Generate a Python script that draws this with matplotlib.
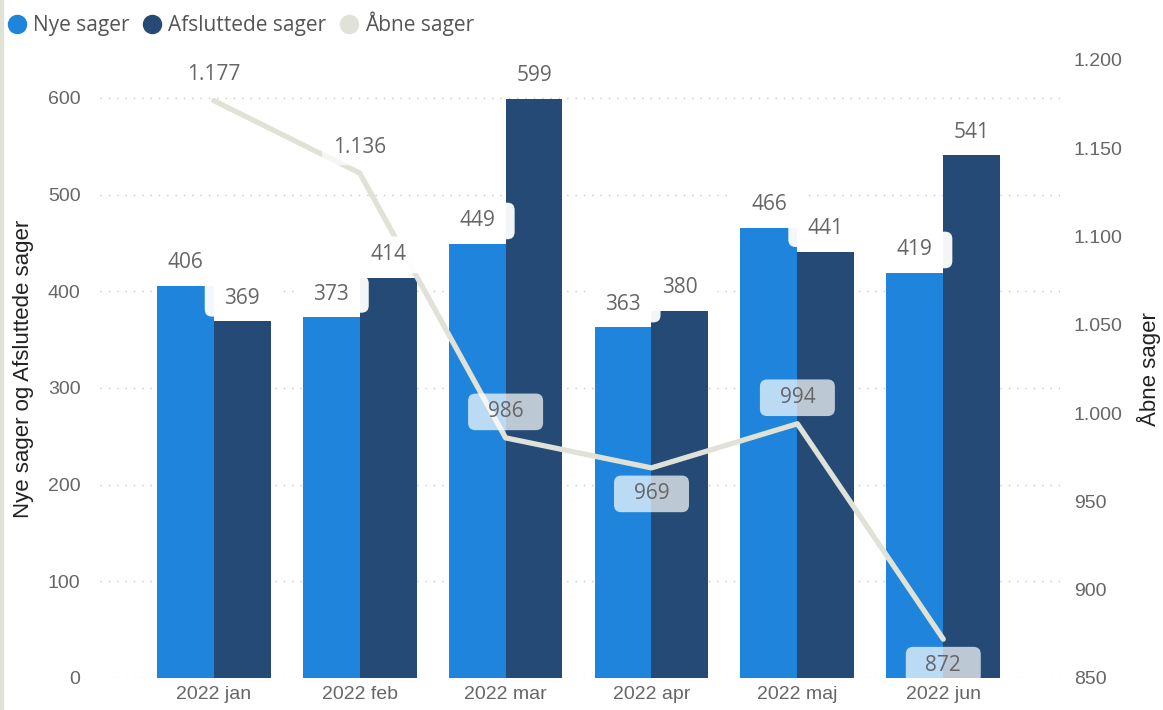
import matplotlib
matplotlib.use('Agg')
import matplotlib.pyplot as plt
import numpy as np
from matplotlib.patches import BoxStyle, Rectangle
from matplotlib.lines import Line2D

months = ['2022 jan', '2022 feb', '2022 mar', '2022 apr', '2022 maj', '2022 jun']
nye_sager = [406, 373, 449, 363, 466, 419]
afsluttede_sager = [369, 414, 599, 380, 441, 541]
aabne_sager = [1177, 1136, 986, 969, 994, 872]

left_ticks = [0, 100, 200, 300, 400, 500, 600]
right_ticks = [850, 900, 950, 1000, 1050, 1100, 1150, 1200]

NYE = '#1f84db'
AFS = '#244a75'
LINE = '#e0e2d8'
TXT = '#666666'


def fmt_dk(v):
    return f'{v:,.0f}'.replace(',', '.')


def label_box(x0, y0, width, height, mutation_size):
    # rounded box with a minimum width, like Power BI data label backgrounds
    w = max(width + 0.9 * mutation_size, 3.6 * mutation_size)
    h = height + 0.75 * mutation_size
    cx = x0 + width / 2
    cy = y0 + height / 2
    return BoxStyle.Round(pad=0, rounding_size=0.35)(cx - w / 2, cy - h / 2, w, h, mutation_size)


fig = plt.figure(figsize=(11.63, 7.10), dpi=100)
fig.patches.append(Rectangle((0, 0), 3 / 1163, 1, transform=fig.transFigure,
                             color=LINE, zorder=0))
ax = fig.add_axes([100 / 1163, 1 - 678 / 710, 960 / 1163, 618 / 710])
ax2 = ax.twinx()

x = np.arange(len(months))
bw = 0.39
bars1 = ax.bar(x - bw / 2, nye_sager, bw, color=NYE, zorder=2)
bars2 = ax.bar(x + bw / 2, afsluttede_sager, bw, color=AFS, zorder=2)

ax.set_xlim(-0.78, 5.80)
ax.set_ylim(0, 639.3)
ax.set_yticks(left_ticks)
ax.set_xticks(x)
ax.set_xticklabels(months)
ax.grid(axis='y', linestyle=(0, (1, 5)), color='#c8c8c8', linewidth=1, zorder=0)
ax.set_axisbelow(True)

ax2.plot(x, aabne_sager, color=LINE, linewidth=3.8, solid_capstyle='round', zorder=3)
ax2.set_ylim(850, 1200)
ax2.set_yticks(right_ticks)
ax2.set_yticklabels([fmt_dk(v) for v in right_ticks])

lab_font = dict(fontsize=15, color=TXT, family=['Open Sans', 'DejaVu Sans'])

# bar labels drawn on the top axes so they sit above the line
for bars in (bars1, bars2):
    for b in bars:
        h = b.get_height()
        ax2.annotate(fmt_dk(h), (b.get_x() + b.get_width() / 2, h), xycoords=ax.transData,
                     xytext=(0, 23), textcoords='offset pixels',
                     ha='center', va='center', zorder=5,
                     bbox=dict(boxstyle=label_box, fc='white', ec='none', alpha=0.95),
                     **lab_font)

line_label_side = [1, 1, 1, -1, 1, -1]
for xi, v, side in zip(x, aabne_sager, line_label_side):
    ax2.annotate(fmt_dk(v), (xi, v), xytext=(0, 26 * side), textcoords='offset pixels',
                 ha='center', va='center', zorder=6,
                 bbox=dict(boxstyle=label_box, fc='white', ec='none', alpha=0.7),
                 **lab_font)

for a in (ax, ax2):
    for s in a.spines.values():
        s.set_visible(False)
    a.tick_params(length=0, labelsize=14, labelcolor=TXT)
    for lab in a.get_yticklabels() + a.get_xticklabels():
        lab.set_family(['Liberation Sans', 'DejaVu Sans'])
ax.tick_params(axis='y', pad=14)
ax2.tick_params(axis='y', pad=10)
ax.tick_params(axis='x', pad=6)

ax.set_ylabel('Nye sager og Afsluttede sager', fontsize=16, color='#222222',
              family=['Liberation Sans', 'DejaVu Sans'], labelpad=10)
ax2.set_ylabel('Åbne sager', fontsize=16, color='#222222',
               family=['Liberation Sans', 'DejaVu Sans'], labelpad=10)

handles = [Line2D([], [], marker='o', linestyle='none', markersize=13, color=c)
           for c in (NYE, AFS, LINE)]
fig.legend(handles, ['Nye sager', 'Afsluttede sager', 'Åbne sager'],
           loc='upper left', bbox_to_anchor=(-0.012, 1.01), ncol=3, frameon=False,
           handletextpad=0.15, columnspacing=0.5, handlelength=1.2,
           prop={'family': ['Open Sans', 'DejaVu Sans'], 'size': 15},
           labelcolor='#555555')

fig.savefig('out.png', dpi=100)
